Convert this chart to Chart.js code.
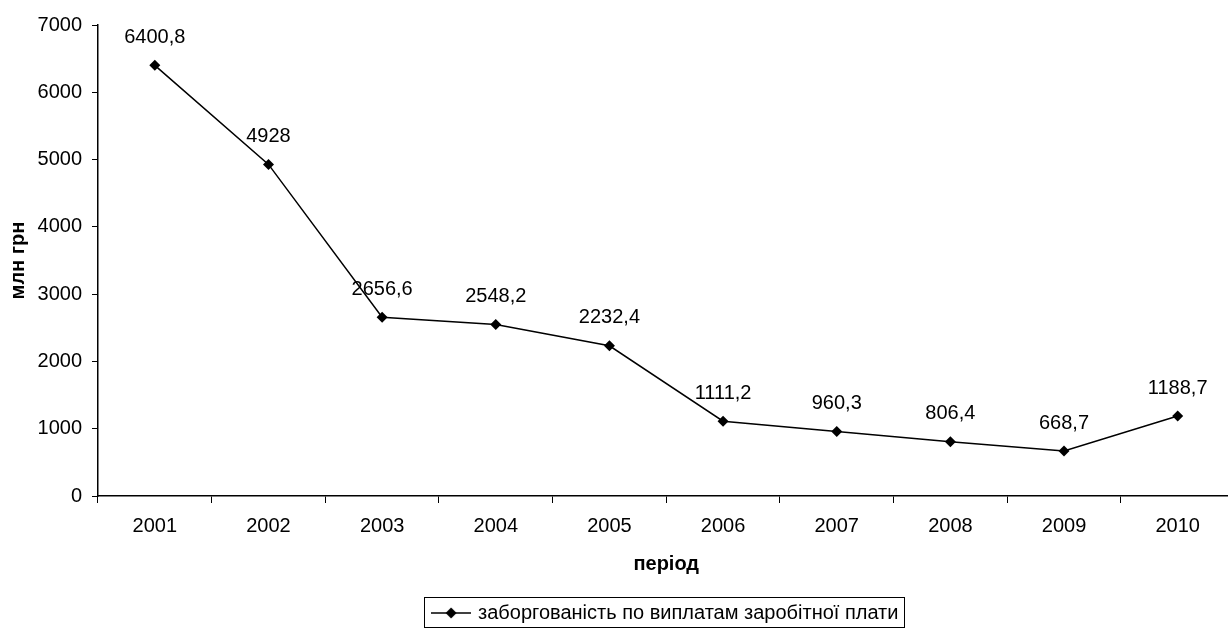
<!DOCTYPE html>
<html>
<head>
<meta charset="utf-8">
<style>
  html, body { margin: 0; padding: 0; background: #fff; overflow: hidden; }
  #wrap { width: 1228px; height: 630px; overflow: hidden; }
  canvas { display: block; }
</style>
<script src="https://cdn.jsdelivr.net/npm/chart.js@4/dist/chart.umd.min.js"></script>
</head>
<body>
<div id="wrap"><canvas id="chart" width="1240" height="630"></canvas></div>
<script>
// Wage arrears by year, million UAH
const years = ['2001', '2002', '2003', '2004', '2005', '2006', '2007', '2008', '2009', '2010'];
const arrears = [6400.8, 4928, 2656.6, 2548.2, 2232.4, 1111.2, 960.3, 806.4, 668.7, 1188.7];
const seriesName = 'заборгованість по виплатам заробітної плати';
const yTitle = 'млн грн';
const xTitle = 'період';

const FONT = 'Liberation Sans, Arial, sans-serif';
const FS = 20;

// Legend symbol: short line with a diamond in the middle
function legendSymbol() {
  const c = document.createElement('canvas');
  c.width = 40; c.height = 14;
  const g = c.getContext('2d');
  g.strokeStyle = '#000'; g.lineWidth = 1.5;
  g.beginPath(); g.moveTo(0, 7); g.lineTo(40, 7); g.stroke();
  g.fillStyle = '#000';
  g.beginPath(); g.moveTo(20, 1.5); g.lineTo(25.5, 7); g.lineTo(20, 12.5); g.lineTo(14.5, 7); g.closePath(); g.fill();
  return c;
}
const symbol = legendSymbol();

// Value labels above each point, with decimal comma
const valueLabels = {
  id: 'valueLabels',
  afterDatasetsDraw(chart) {
    const ctx = chart.ctx;
    const meta = chart.getDatasetMeta(0);
    const data = chart.data.datasets[0].data;
    ctx.save();
    ctx.font = FS + 'px ' + FONT;
    ctx.fillStyle = '#000';
    ctx.textAlign = 'center';
    ctx.textBaseline = 'middle';
    meta.data.forEach((pt, i) => {
      const txt = String(data[i]).replace('.', ',');
      ctx.fillText(txt, pt.x, pt.y - 28);
    });
    ctx.restore();
  }
};

// Centre the legend under the plot area, nudge it down and frame it
const legendFrame = {
  id: 'legendFrame',
  afterLayout(chart) {
    const lg = chart.legend, ca = chart.chartArea;
    if (!lg) return;
    const shift = (ca.left + ca.right) / 2 - (lg.left + lg.right) / 2;
    lg.left += shift;
    lg.right += shift;
    lg.top += 3;
    lg.bottom += 3;
  },
  afterDraw(chart) {
    const lg = chart.legend;
    if (!lg || !lg.legendHitBoxes || !lg.legendHitBoxes.length) return;
    const hb = lg.legendHitBoxes[0];
    const ctx = chart.ctx;
    ctx.save();
    ctx.strokeStyle = '#000';
    ctx.lineWidth = 1;
    const cy = Math.round(hb.top + hb.height / 2);
    const l = Math.round(hb.left) - 9.5, t = cy - 15.5;
    const r = Math.round(hb.left + hb.width) + 6.5, b = t + 30;
    ctx.strokeRect(l, t, r - l, b - t);
    ctx.restore();
  }
};

new Chart(document.getElementById('chart'), {
  type: 'line',
  data: {
    labels: years,
    datasets: [{
      label: seriesName,
      data: arrears,
      borderColor: '#000',
      backgroundColor: '#000',
      borderWidth: 1.5,
      tension: 0,
      pointStyle: 'rectRot',
      pointRadius: 5.5,
      pointBackgroundColor: '#000',
      pointBorderColor: '#000',
      pointBorderWidth: 0
    }]
  },
  options: {
    responsive: false,
    animation: false,
    layout: { padding: { left: 0, right: 2, top: 25, bottom: 0 } },
    plugins: {
      tooltip: { enabled: false },
      legend: {
        position: 'bottom',
        labels: {
          usePointStyle: true,
          pointStyleWidth: 34,
          padding: 2,
          color: '#000',
          font: { family: FONT, size: FS },
          generateLabels() {
            return [{
              text: seriesName,
              pointStyle: symbol,
              fillStyle: '#000',
              strokeStyle: '#000',
              lineWidth: 0,
              datasetIndex: 0,
              hidden: false
            }];
          }
        }
      }
    },
    scales: {
      x: {
        offset: true,
        grid: { offset: true, drawOnChartArea: false, drawTicks: true, tickLength: 7, color: '#000', lineWidth: 1 },
        border: { color: '#000', width: 1.5 },
        ticks: { color: '#000', font: { family: FONT, size: FS }, padding: 11, maxRotation: 0 },
        title: { display: true, text: xTitle, color: '#000', font: { family: FONT, size: FS, weight: 'bold' }, padding: { top: 0, bottom: 22 } },
        afterFit(s) { s.height = 102; }
      },
      y: {
        min: 0, max: 7000,
        grid: { drawOnChartArea: false, drawTicks: true, tickLength: 6, color: '#000', lineWidth: 1 },
        border: { color: '#000', width: 1.5 },
        ticks: { stepSize: 1000, color: '#000', font: { family: FONT, size: FS }, padding: 10, callback: v => String(v) },
        title: { display: true, text: yTitle, color: '#000', font: { family: FONT, size: FS, weight: 'bold' }, padding: { top: 6, bottom: 0 } },
        afterFit(s) { s.width = 98; }
      }
    }
  },
  plugins: [valueLabels, legendFrame]
});
</script>
</body>
</html>
